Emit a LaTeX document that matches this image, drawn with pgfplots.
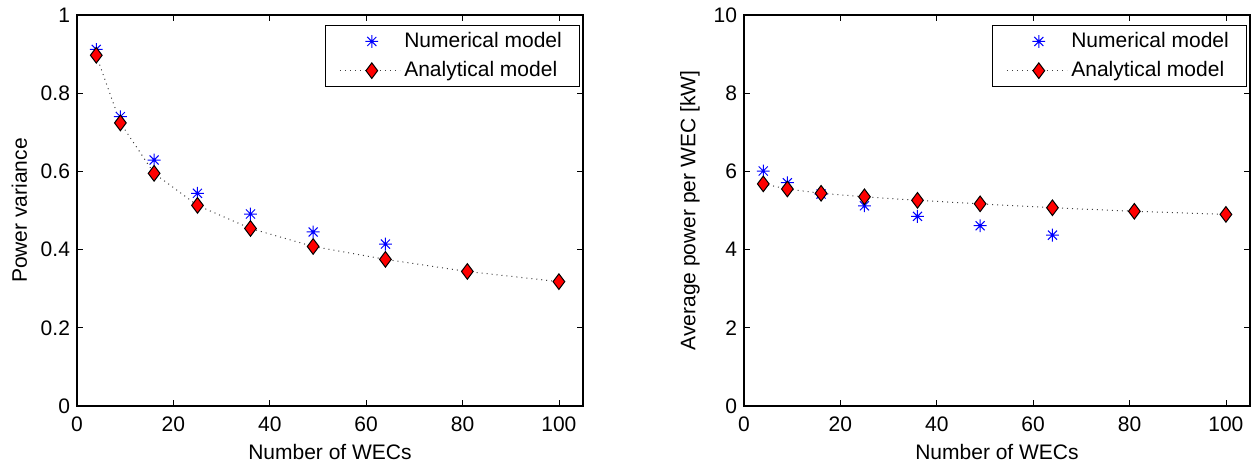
\documentclass[border=0pt]{standalone}
\usepackage{fontspec}
\setmainfont{Liberation Sans}
\usepackage{pgfplots}
\pgfplotsset{compat=1.18}

% matlab-like '*' marker: a plus and a cross on top of each other
\pgfdeclareplotmark{mstar}{%
  \pgfpathmoveto{\pgfqpoint{-\pgfplotmarksize}{0pt}}\pgfpathlineto{\pgfqpoint{\pgfplotmarksize}{0pt}}%
  \pgfpathmoveto{\pgfqpoint{0pt}{-\pgfplotmarksize}}\pgfpathlineto{\pgfqpoint{0pt}{\pgfplotmarksize}}%
  \pgfpathmoveto{\pgfqpoint{-0.707\pgfplotmarksize}{-0.707\pgfplotmarksize}}\pgfpathlineto{\pgfqpoint{0.707\pgfplotmarksize}{0.707\pgfplotmarksize}}%
  \pgfpathmoveto{\pgfqpoint{-0.707\pgfplotmarksize}{0.707\pgfplotmarksize}}\pgfpathlineto{\pgfqpoint{0.707\pgfplotmarksize}{-0.707\pgfplotmarksize}}%
  \pgfusepathqstroke}

\definecolor{mblue}{RGB}{0,0,255}
\definecolor{mred}{RGB}{255,0,0}

\pgfplotsset{
  wec/.style={
    scale only axis, width=253pt, height=195.5pt,
    xmin=0, xmax=105, xtick={0,20,...,100},
    tick align=inside, major tick length=3pt,
    axis line style={line width=0.6pt}, every tick/.style={line width=0.4pt, black},
    font=\fontsize{10.5}{12.5}\selectfont,
    tick label style={font=\fontsize{10.5}{12.5}\selectfont, /pgf/number format/assume math mode=true},
    xticklabel style={yshift=-2pt},
    label style={font=\fontsize{10.5}{12.5}\selectfont},
    xlabel={Number of WECs},
    xlabel style={yshift=0.5pt},
    legend cell align=left,
    legend style={at={(rel axis cs:0.995,0.975)}, anchor=north east, line width=0.6pt,
      inner xsep=7pt, inner ysep=1.5pt, row sep=1.5pt,
      font=\fontsize{10.5}{12.5}\selectfont,
      /tikz/every even column/.append style={column sep=6pt}},
    legend image code/.code={\draw[mark repeat=2,mark phase=2] plot coordinates {(0pt,0pt) (16pt,0pt) (30pt,0pt)};},
  },
  num/.style={only marks, mark=mstar, mark size=3.2pt, mblue, line width=0.5pt},
  ana/.style={black!75, dotted, line width=0.5pt, mark=diamond*, mark size=3.9pt,
    mark options={solid, fill=mred, draw=black, line width=0.5pt}},
}

\begin{document}
\begin{tikzpicture}
\path[use as bounding box] (-38.5pt,-29pt) rectangle (588.5pt,203pt);

\begin{axis}[wec, at={(0pt,0pt)}, anchor=south west,
  ymin=0, ymax=1, ytick={0,0.2,...,1}, ylabel={Power variance}]
  \addplot[num] coordinates {(4,0.912) (9,0.740) (16,0.629) (25,0.544) (36,0.491) (49,0.445) (64,0.414)};
  \addlegendentry{Numerical model}
  \addplot[ana] coordinates {(4,0.897) (9,0.724) (16,0.595) (25,0.513) (36,0.454) (49,0.408) (64,0.375) (81,0.344) (100,0.318)};
  \addlegendentry{Analytical model}
\end{axis}

\begin{axis}[wec, at={(333.5pt,0pt)}, anchor=south west,
  ymin=0, ymax=10, ytick={0,2,...,10}, ylabel={Average power per WEC [kW]}]
  \addplot[num] coordinates {(4,6.01) (9,5.71) (16,5.42) (25,5.12) (36,4.85) (49,4.61) (64,4.37)};
  \addlegendentry{Numerical model}
  \addplot[ana] coordinates {(4,5.68) (9,5.55) (16,5.44) (25,5.35) (36,5.26) (49,5.17) (64,5.07) (81,4.98) (100,4.90)};
  \addlegendentry{Analytical model}
\end{axis}
\end{tikzpicture}
\end{document}
